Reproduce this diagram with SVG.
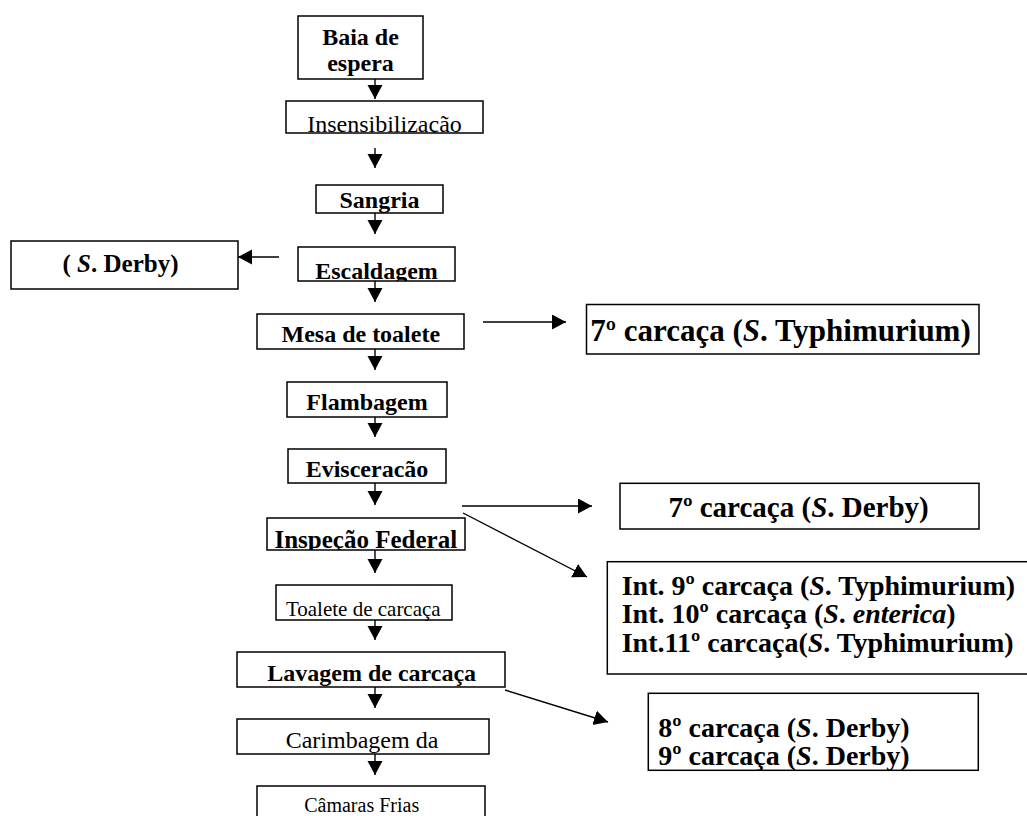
<svg xmlns="http://www.w3.org/2000/svg" width="1027" height="816" viewBox="0 0 1027 816">
<style>
  .box { fill: #fff; stroke: #000; stroke-width: 1.5; }
  .t { font-family: "Liberation Serif", "Times New Roman", serif; fill: #000; }
  .b { font-weight: bold; }
  .c { text-anchor: middle; }
  .i { font-style: italic; }
  .ln { stroke: #000; stroke-width: 1.4; fill: none; marker-end: url(#ah); }
</style>
<defs>
  <marker id="ah" markerUnits="userSpaceOnUse" markerWidth="16" markerHeight="16" refX="14" refY="7.5" orient="auto" viewBox="0 0 16 16">
    <path d="M0,0 L14,7.5 L0,15 Z" fill="#000"/>
  </marker>
  <clipPath id="c2"><rect x="286" y="101" width="197" height="32"/></clipPath>
  <clipPath id="c3"><rect x="316" y="185" width="127" height="28"/></clipPath>
  <clipPath id="c4"><rect x="298" y="247" width="157" height="34"/></clipPath>
  <clipPath id="c6"><rect x="287" y="382" width="160" height="35"/></clipPath>
  <clipPath id="c8"><rect x="267" y="518" width="198" height="32"/></clipPath>
  <clipPath id="c10"><rect x="237" y="652" width="268" height="35"/></clipPath>
  <clipPath id="c11"><rect x="237" y="719" width="252" height="35"/></clipPath>
  <clipPath id="cD"><rect x="648" y="693" width="330" height="77"/></clipPath>
</defs>

<g id="connectors">
  <line class="ln" x1="375" y1="79" x2="375" y2="99"/>
  <line class="ln" x1="375" y1="148" x2="375" y2="168"/>
  <line class="ln" x1="375" y1="213" x2="375" y2="234"/>
  <line class="ln" x1="375" y1="281" x2="375" y2="302"/>
  <line class="ln" x1="375" y1="349" x2="375" y2="370"/>
  <line class="ln" x1="375" y1="417" x2="375" y2="437"/>
  <line class="ln" x1="375" y1="483" x2="375" y2="505"/>
  <line class="ln" x1="375" y1="550" x2="375" y2="573"/>
  <line class="ln" x1="375" y1="620" x2="375" y2="640"/>
  <line class="ln" x1="375" y1="687" x2="375" y2="708"/>
  <line class="ln" x1="375" y1="754" x2="375" y2="775"/>
  <line class="ln" x1="279" y1="257" x2="238" y2="257"/>
  <line class="ln" x1="483" y1="322" x2="566" y2="322"/>
  <line class="ln" x1="462" y1="506" x2="592" y2="506"/>
  <line class="ln" x1="463" y1="513" x2="587" y2="577"/>
  <line class="ln" x1="505" y1="690" x2="608" y2="722"/>
</g>

<g id="n-baia">
  <rect class="box" x="298" y="16" width="125" height="63"/>
  <text class="t b c" x="360.5" y="45" font-size="24">Baia de</text>
  <text class="t b c" x="360.5" y="71" font-size="24">espera</text>
</g>
<g id="n-insens">
  <rect class="box" x="286" y="101" width="197" height="32"/>
  <text class="t c" x="384.5" y="132" font-size="24" clip-path="url(#c2)">Insensibilização</text>
</g>
<g id="n-sangria">
  <rect class="box" x="316" y="185" width="127" height="28"/>
  <text class="t b c" x="379.5" y="208" font-size="24" clip-path="url(#c3)">Sangria</text>
</g>
<g id="n-escald">
  <rect class="box" x="298" y="247" width="157" height="34"/>
  <text class="t b c" x="376.5" y="278.5" font-size="24" clip-path="url(#c4)">Escaldagem</text>
</g>
<g id="n-derby-left">
  <rect class="box" x="11" y="241" width="227" height="48"/>
  <text class="t b c" x="120.5" y="271.5" font-size="25">( <tspan class="i">S</tspan>. Derby)</text>
</g>
<g id="n-mesa">
  <rect class="box" x="257" y="314" width="207" height="35"/>
  <text class="t b c" x="360.8" y="342" font-size="24">Mesa de toalete</text>
</g>
<g id="n-flamb">
  <rect class="box" x="287" y="382" width="160" height="35"/>
  <text class="t b c" x="367" y="410" font-size="24" clip-path="url(#c6)">Flambagem</text>
</g>
<g id="n-evisc">
  <rect class="box" x="288" y="449" width="158" height="34"/>
  <text class="t b c" x="367" y="476.5" font-size="24">Evisceracão</text>
</g>
<g id="n-insp">
  <rect class="box" x="267" y="518" width="198" height="32"/>
  <text class="t b c" x="365.8" y="548" font-size="25" clip-path="url(#c8)">Inspeção Federal</text>
</g>
<g id="n-toalete">
  <rect class="box" x="276" y="585" width="176" height="35"/>
  <text class="t c" x="363.3" y="616" font-size="21">Toalete de carcaça</text>
</g>
<g id="n-lavagem">
  <rect class="box" x="237" y="652" width="268" height="35"/>
  <text class="t b c" x="371.7" y="681" font-size="24" clip-path="url(#c10)">Lavagem de carcaça</text>
</g>
<g id="n-carimb">
  <rect class="box" x="237" y="719" width="252" height="35"/>
  <text class="t c" x="362" y="748" font-size="24" clip-path="url(#c11)">Carimbagem da</text>
</g>
<g id="n-camaras">
  <rect class="box" x="257" y="786" width="228" height="40"/>
  <text class="t c" x="361.7" y="812" font-size="20">Câmaras Frias</text>
</g>

<g id="r-typh7">
  <rect class="box" x="586.5" y="304.5" width="392.5" height="49.5"/>
  <text class="t b c" x="780.5" y="341" font-size="31">7º carcaça (<tspan class="i">S</tspan>. Typhimurium)</text>
</g>
<g id="r-derby7">
  <rect class="box" x="620" y="483.3" width="359" height="45.7"/>
  <text class="t b c" x="798.6" y="516.5" font-size="29">7º carcaça (<tspan class="i">S</tspan>. Derby)</text>
</g>
<g id="r-int">
  <rect class="box" x="607.3" y="561.7" width="422" height="112.3"/>
  <text class="t b" x="621.7" y="595" font-size="28">Int. 9º carcaça (<tspan class="i">S</tspan>. Typhimurium)</text>
  <text class="t b" x="621.7" y="623.3" font-size="28">Int. 10º carcaça (<tspan class="i">S</tspan>. <tspan class="i">enterica</tspan>)</text>
  <text class="t b" x="621.7" y="651.7" font-size="28">Int.11º carcaça(<tspan class="i">S</tspan>. Typhimurium)</text>
</g>
<g id="r-derby89">
  <rect class="box" x="648.3" y="693.3" width="330" height="77"/>
  <text class="t b" x="658.3" y="736.5" font-size="28">8º carcaça (<tspan class="i">S</tspan>. Derby)</text>
  <text class="t b" x="658.3" y="765" font-size="28" clip-path="url(#cD)">9º carcaça (<tspan class="i">S</tspan>. Derby)</text>
</g>
</svg>
